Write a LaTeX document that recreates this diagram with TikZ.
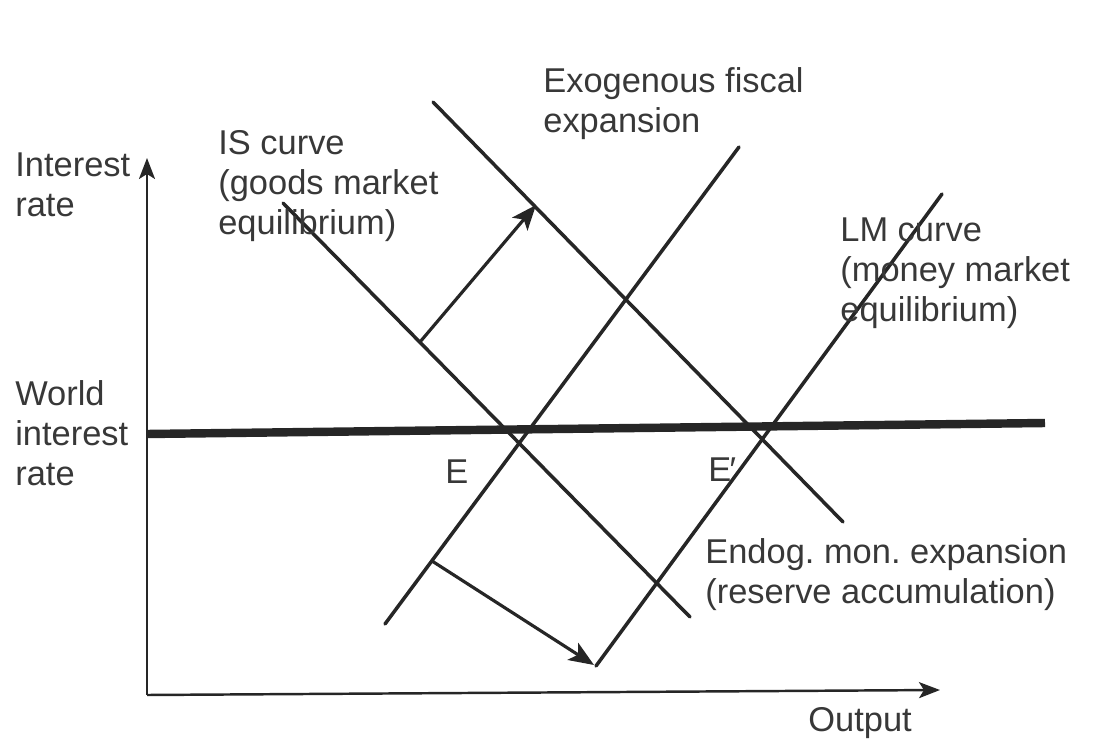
\documentclass[tikz,border=0pt]{standalone}
\usepackage{fontspec}
\setmainfont{Liberation Sans}
\usetikzlibrary{arrows.meta}
\definecolor{ink}{HTML}{262626}
\definecolor{txt}{HTML}{383838}
\frenchspacing
\begin{document}
\begin{tikzpicture}[x=0.02cm,y=-0.02cm,
  curve/.style={draw=ink,line width=2pt,line cap=round},
  axis/.style={draw=ink,line width=1.4pt,-{Stealth[length=0.42cm,width=0.32cm,inset=0.1cm]}},
  shiftarrow/.style={draw=ink,line width=1.8pt,-{Stealth[length=0.5cm,width=0.4cm,inset=0.12cm]}},
  world/.style={draw=ink,line width=4.8pt},
  lbl/.style={text=txt,font=\fontsize{19.6}{22.8}\selectfont,align=left,inner sep=0pt,anchor=west}]
\useasboundingbox (0,0) rectangle (1103,740);
% axes
\coordinate (O) at (147,695);
\coordinate (Ytop) at (147,158);
\coordinate (Xend) at (940,690);
\draw[axis] (O) -- (Ytop);
\draw[axis] (O) -- (Xend);
% world interest rate
\coordinate (W1) at (147,434);
\coordinate (W2) at (1045,423);
\draw[world] (W1) -- (W2);
% IS curves
\coordinate (IS1a) at (283,203);
\coordinate (IS1b) at (690,617);
\coordinate (IS2a) at (433,102);
\coordinate (IS2b) at (843,522);
\draw[curve] (IS1a) -- (IS1b);
\draw[curve] (IS2a) -- (IS2b);
% LM curves
\coordinate (LM1a) at (385,624);
\coordinate (LM1b) at (739,147);
\coordinate (LM2a) at (596,666);
\coordinate (LM2b) at (942,194);
\draw[curve] (LM1a) -- (LM1b);
\draw[curve] (LM2a) -- (LM2b);
% shift arrows
\coordinate (U1) at (420,342);
\coordinate (U2) at (536,205);
\coordinate (D1) at (432,561);
\coordinate (D2) at (594,665);
\draw[shiftarrow] (U1) -- (U2);
\draw[shiftarrow] (D1) -- (D2);
% labels
\node[lbl] (ylab) at (15,185) {Interest\\rate};
\node[lbl] (islab) at (218,186) {IS curve\\(goods market\\equilibrium)};
\node[lbl] (exolab) at (543,104) {Exogenous fiscal\\expansion};
\node[lbl] (lmlab) at (840,273) {LM curve\\(money market\\equilibrium)};
\node[lbl] (wlab) at (15,433) {World\\interest\\rate};
\node[lbl] (E) at (445,472) {E};
\node[lbl] (Ep) at (708,470) {E\kern-0.05em\char"2032};
\node[lbl] (endlab) at (705,575) {Endog. mon. expansion\\(reserve accumulation)};
\node[lbl] (xlab) at (808,723) {Output};
\end{tikzpicture}
\end{document}
